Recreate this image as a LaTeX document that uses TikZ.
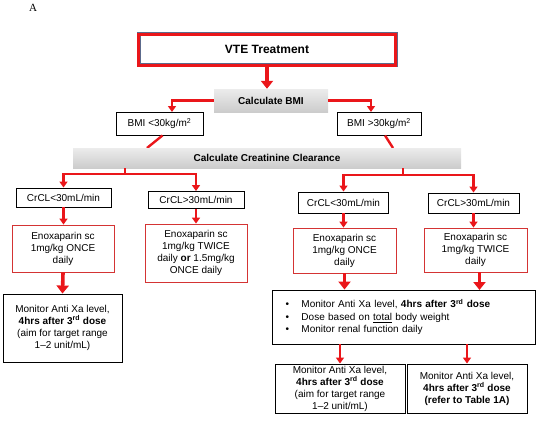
\documentclass[tikz,border=0pt]{standalone}
\usepackage{fontspec}
\setmainfont{Liberation Sans}
\newfontfamily\tagfont{Liberation Serif}
\usetikzlibrary{arrows.meta}
\definecolor{flowred}{RGB}{234,22,26}
\definecolor{boxred}{RGB}{212,52,52}
\definecolor{slate}{RGB}{92,106,140}
\begin{document}
\begin{tikzpicture}[x=1pt,y=-1pt,
    outline/.style={draw=black, line width=0.9pt, fill=white, inner sep=0pt, align=center, font=\fontsize{10}{12}\selectfont},
    dosebox/.style={outline, draw=boxred, line width=0.8pt},
    grayband/.style={inner sep=0pt, top color=gray!15, bottom color=gray!40, font=\fontsize{10}{12}\selectfont\bfseries},
    bigarrow/.style={flowred, line width=3.6pt, -{Triangle[width=12pt,length=8pt]}},
    branch/.style={flowred, line width=2.4pt, -{Triangle[width=8pt,length=6pt]}},
    joint/.style={flowred, line width=2.4pt}]
\useasboundingbox (0,0) rectangle (538,423);
\node[font=\tagfont\fontsize{11}{13}\selectfont] (tag) at (33,8) {A};
% top of the chart
\node[draw=slate, double=flowred, double distance=3pt, line width=0.5pt, minimum width=257pt, minimum height=31pt, inner sep=0pt, font=\fontsize{12}{14}\selectfont\bfseries] (vte) at (267,49.5) {VTE Treatment};
\node[grayband, minimum width=114pt, minimum height=23pt] (bmi) at (271,100.5) {Calculate BMI};
\node[outline, minimum width=87pt, minimum height=23pt] (lowbmi) at (159.5,123.5) {BMI <30kg/m\textsuperscript{2}};
\node[outline, minimum width=84pt, minimum height=23pt] (highbmi) at (379,123.5) {BMI >30kg/m\textsuperscript{2}};
\coordinate (lowin) at (172,112);
\coordinate (highin) at (371,112);
\draw[bigarrow](vte.south)--(vte.south |- bmi.north);
\draw[branch](bmi.west)-|(lowin);
\draw[branch](bmi.east)-|(highin);
\coordinate (lowout) at (147,148);
\coordinate (highout) at (393,148);
\draw[joint](lowbmi.south)++(3,0)--(lowout);
\draw[joint](highbmi.south)++(6,0)--(highout);
\node[grayband, minimum width=388pt, minimum height=20pt] (crcl) at (267,158) {Calculate Creatinine Clearance};
% creatinine clearance split
\node[outline, minimum width=95pt, minimum height=19pt] (lowA) at (63.5,197.5) {CrCL<30mL/min};
\node[outline, minimum width=96pt, minimum height=17pt] (highA) at (196,200) {CrCL>30mL/min};
\node[outline, minimum width=90pt, minimum height=21pt] (lowB) at (343.5,202.5) {CrCL<30mL/min};
\node[outline, minimum width=91pt, minimum height=20pt] (highB) at (473.5,203) {CrCL>30mL/min};
\coordinate (splitA) at (125,174);
\coordinate (splitB) at (403,175);
\foreach \s/\l/\h in {splitA/lowA/highA, splitB/lowB/highB}
{
    \draw[joint](crcl.south -| \s)--(\s);
    \draw[branch](\s)-|(\l.north);
    \draw[branch](\s)-|(\h.north);
}
% doses
\node[dosebox, minimum width=102pt, minimum height=47pt] (doseA) at (63,248.5) {Enoxaparin sc\\1mg/kg ONCE\\daily};
\node[dosebox, minimum width=102pt, minimum height=58pt] (doseB) at (196,253) {Enoxaparin sc\\1mg/kg TWICE\\daily \textbf{or} 1.5mg/kg\\ONCE daily};
\node[dosebox, minimum width=103pt, minimum height=45pt] (doseC) at (344.5,250.5) {Enoxaparin sc\\1mg/kg ONCE\\daily};
\node[dosebox, minimum width=103pt, minimum height=44pt] (doseD) at (475.5,250) {Enoxaparin sc\\1mg/kg TWICE\\daily};
\foreach \c/\d in {lowA/doseA, highA/doseB, lowB/doseC, highB/doseD}
{
    \draw[branch](\c.south)--(\c.south |- \d.north);
}
% monitoring
\node[outline, minimum width=119pt, minimum height=68pt] (monA) at (62.5,328) {Monitor Anti Xa level,\\\textbf{4hrs after 3\textsuperscript{rd} dose}\\(aim for target range\\1--2 unit/mL)};
\node[outline, minimum width=263pt, minimum height=54pt, text width=236pt, align=left, font=\fontsize{10}{12.5}\selectfont] (obese) at (403.5,317) {\makebox[16pt][l]{\textbullet}Monitor Anti Xa level, \textbf{4hrs after 3\textsuperscript{rd} dose}\\\makebox[16pt][l]{\textbullet}Dose based on \underline{total} body weight\\\makebox[16pt][l]{\textbullet}Monitor renal function daily};
\node[outline, minimum width=130pt, minimum height=49pt] (monC) at (340,388.5) {Monitor Anti Xa level,\\\textbf{4hrs after 3\textsuperscript{rd} dose}\\(aim for target range\\1--2 unit/mL)};
\node[outline, minimum width=120pt, minimum height=49pt] (monD) at (467,388.5) {Monitor Anti Xa level,\\\textbf{4hrs after 3\textsuperscript{rd} dose}\\\textbf{(refer to Table 1A)}};
\draw[bigarrow](doseA.south)--(monA.north);
\draw[bigarrow](doseC.south)--(doseC.south |- obese.north);
\draw[bigarrow](doseD.south)++(4,0)--(479.5,290);
\draw[branch](monC.north |- obese.south)--(monC.north);
\draw[branch](monD.north |- obese.south)--(monD.north);
\end{tikzpicture}
\end{document}
